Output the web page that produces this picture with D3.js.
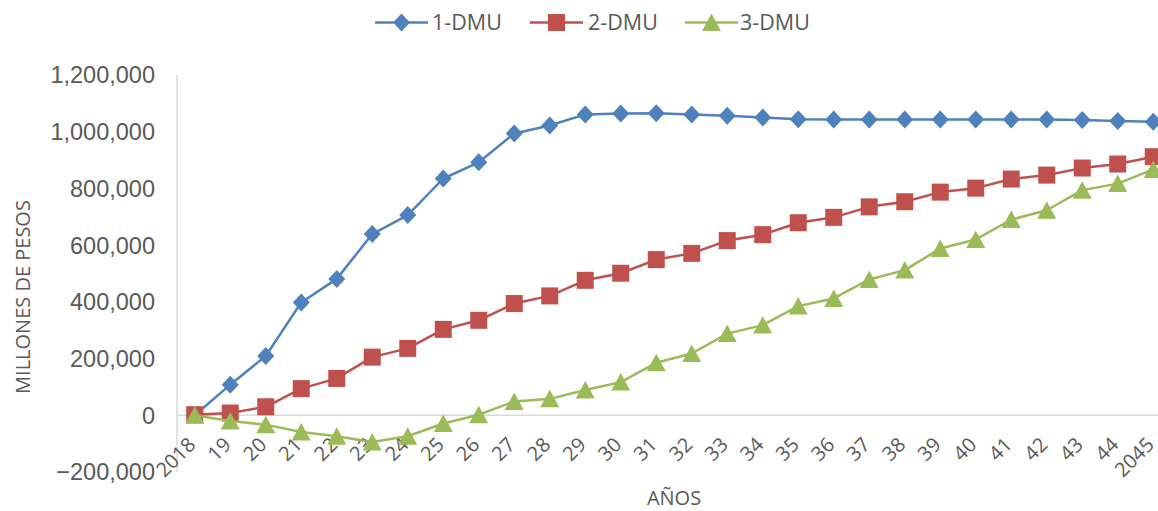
<!DOCTYPE html>
<html>
<head>
<meta charset="utf-8">
<script src="https://cdn.jsdelivr.net/npm/d3@7/dist/d3.min.js"></script>
<style>
  html, body { margin: 0; padding: 0; background: #fff; }
  svg { display: block; }
</style>
</head>
<body>
<svg id="chart" width="1158" height="511"></svg>
<script>
// Years on the category axis and their printed labels
const years = ["2018","19","20","21","22","23","24","25","26","27","28","29","30","31",
               "32","33","34","35","36","37","38","39","40","41","42","43","44","2045"];

// Accumulated values per DMU (millones de pesos)
const dmu1 = [0, 108000, 209000, 398000, 481000, 639000, 706000, 835000, 892000, 994000,
              1022000, 1061000, 1064000, 1065000, 1061000, 1056000, 1050000, 1044000, 1043000,
              1043000, 1043000, 1043000, 1043000, 1043000, 1043000, 1041000, 1038000, 1035000];
const dmu2 = [2000, 8000, 30000, 94000, 130000, 205000, 236000, 303000, 335000, 394000,
              421000, 476000, 501000, 549000, 571000, 616000, 637000, 679000, 698000,
              735000, 753000, 787000, 801000, 833000, 847000, 872000, 886000, 912000];
const dmu3 = [0, -20000, -33000, -59000, -74000, -94000, -74000, -29000, 2000, 49000,
              58000, 89000, 117000, 185000, 218000, 288000, 318000, 385000, 412000,
              479000, 512000, 588000, 620000, 690000, 723000, 794000, 817000, 867000];

const yTicks = [-200000, 0, 200000, 400000, 600000, 800000, 1000000, 1200000];

const seriesNames = ["1-DMU", "2-DMU", "3-DMU"];
const seriesColors = ["#4F81BD", "#C0504D", "#9BBB59"];
const seriesShapes = ["diamond", "square", "triangle"];
const seriesValues = [dmu1, dmu2, dmu3];

const svg = d3.select("#chart");
const plotLeft = 177, plotRight = 1171, plotTop = 75, plotBottom = 472;

const x = d3.scalePoint().domain(years).range([plotLeft, plotRight]).padding(0.5);
const y = d3.scaleLinear().domain([-200000, 1200000]).range([plotBottom, plotTop]);

const textColor = "#595959";
const axisColor = "#D9D9D9";

// Value axis line
svg.append("line")
  .attr("x1", plotLeft).attr("x2", plotLeft)
  .attr("y1", y(1200000)).attr("y2", y(-200000))
  .attr("stroke", axisColor).attr("stroke-width", 1.5);

// Category axis crosses at zero
svg.append("line")
  .attr("x1", plotLeft).attr("x2", plotRight)
  .attr("y1", y(0)).attr("y2", y(0))
  .attr("stroke", axisColor).attr("stroke-width", 1.5);

// Value axis labels
const fmt = d3.format(",");
svg.append("g").selectAll("text").data(yTicks).join("text")
  .attr("x", 155)
  .attr("y", d => y(d))
  .attr("dy", "0.36em")
  .attr("text-anchor", "end")
  .attr("font-family", "'Liberation Sans', Arial, sans-serif")
  .attr("font-size", 23.5)
  .attr("fill", textColor)
  .text(d => fmt(d));

// Category labels, rotated
svg.append("g").selectAll("text").data(years).join("text")
  .attr("transform", d => `translate(${x(d) + 2},${446}) rotate(-45)`)
  .attr("text-anchor", "end")
  .attr("font-family", "'Open Sans', sans-serif")
  .attr("font-size", 20)
  .attr("fill", textColor)
  .text(d => d);

// Axis titles
svg.append("text")
  .attr("x", 674).attr("y", 505)
  .attr("text-anchor", "middle")
  .attr("font-family", "'Open Sans', sans-serif")
  .attr("font-size", 20)
  .attr("fill", textColor)
  .text("AÑOS");

svg.append("text")
  .attr("transform", "translate(30,297) rotate(-90)")
  .attr("text-anchor", "middle")
  .attr("font-family", "'Open Sans', sans-serif")
  .attr("font-size", 20)
  .attr("fill", textColor)
  .text("MILLONES DE PESOS");

// Marker path generator
function markerPath(shape) {
  if (shape === "diamond") return "M0,-9L8.5,0L0,9L-8.5,0Z";
  if (shape === "square") return "M-8.5,-8.5H8.5V8.5H-8.5Z";
  return "M0,-9L9.5,8.5H-9.5Z";
}

const line = d3.line().x((d, i) => x(years[i])).y(d => y(d));

const clip = svg.append("defs").append("clipPath").attr("id", "plotclip");
clip.append("rect").attr("x", 0).attr("y", 0).attr("width", 1158).attr("height", 511);

seriesValues.forEach((vals, s) => {
  const g = svg.append("g").attr("clip-path", "url(#plotclip)");
  g.append("path")
    .datum(vals)
    .attr("d", line)
    .attr("fill", "none")
    .attr("stroke", seriesColors[s])
    .attr("stroke-width", 2.5)
    .attr("stroke-linejoin", "round");
  g.selectAll("path.mk").data(vals).join("path")
    .attr("class", "mk")
    .attr("transform", (d, i) => `translate(${x(years[i])},${y(d)})`)
    .attr("d", markerPath(seriesShapes[s]))
    .attr("fill", seriesColors[s]);
});

// Legend
const legendItems = [
  { lineX: 375, textX: 432 },
  { lineX: 530, textX: 588 },
  { lineX: 685, textX: 740 }
];
const lg = svg.append("g");
legendItems.forEach((it, s) => {
  lg.append("line")
    .attr("x1", it.lineX).attr("x2", it.lineX + 53)
    .attr("y1", 22.5).attr("y2", 22.5)
    .attr("stroke", seriesColors[s]).attr("stroke-width", 2.5);
  lg.append("path")
    .attr("transform", `translate(${it.lineX + 26.5},22.5)`)
    .attr("d", markerPath(seriesShapes[s]))
    .attr("fill", seriesColors[s]);
  lg.append("text")
    .attr("x", it.textX).attr("y", 22.5)
    .attr("dy", "0.36em")
    .attr("font-family", "'Open Sans', sans-serif")
    .attr("font-size", 21.5)
    .attr("fill", textColor)
    .text(seriesNames[s]);
});
</script>
</body>
</html>
